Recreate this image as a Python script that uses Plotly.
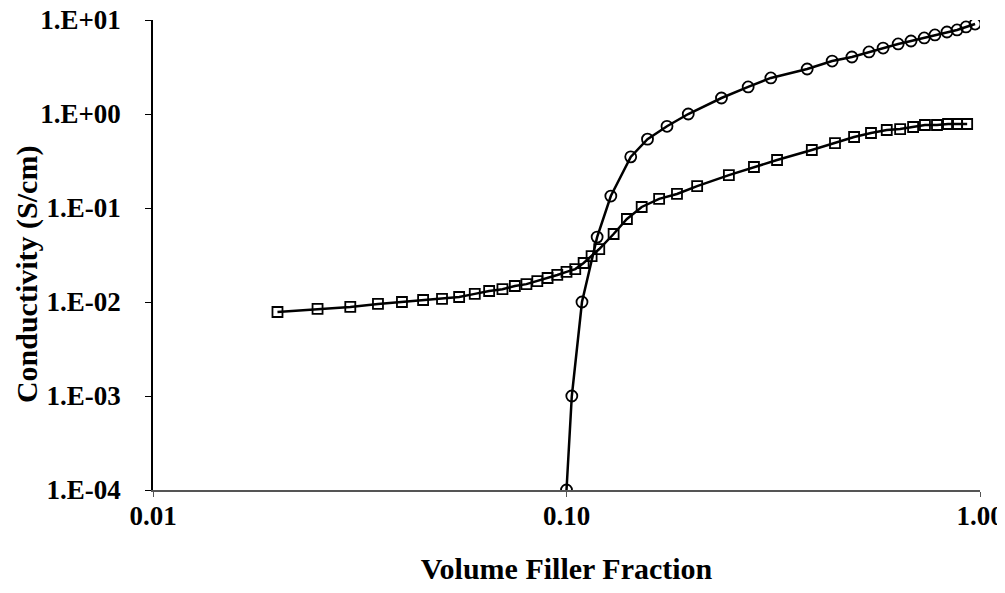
import plotly.graph_objects as go

# Series 1: circles (percolating filler)
circle_x = [0.100, 0.103, 0.109, 0.1186, 0.128, 0.143, 0.157, 0.175, 0.197,
            0.237, 0.275, 0.312, 0.382, 0.439, 0.490, 0.539, 0.583, 0.634,
            0.681, 0.733, 0.778, 0.832, 0.880, 0.925, 0.973]
circle_y = [1.0e-4, 1.0e-3, 1.0e-2, 0.049, 0.134, 0.35, 0.54, 0.74, 1.0,
            1.48, 1.94, 2.42, 3.01, 3.66, 4.04, 4.57, 5.03, 5.56,
            5.98, 6.44, 6.93, 7.45, 7.84, 8.43, 9.06]

# Series 2: squares
square_x = [0.020, 0.025, 0.030, 0.035, 0.040, 0.045, 0.050, 0.055, 0.060,
            0.065, 0.070, 0.075, 0.080, 0.085, 0.090, 0.095, 0.100, 0.105,
            0.110, 0.115, 0.120, 0.130, 0.140, 0.152, 0.1675, 0.185, 0.207,
            0.247, 0.284, 0.323, 0.392, 0.446, 0.496, 0.545, 0.595, 0.641,
            0.689, 0.736, 0.787, 0.837, 0.880, 0.931]
square_y = [0.00783, 0.00843, 0.00886, 0.00953, 0.0100, 0.0105, 0.0108, 0.0113,
            0.0122, 0.0131, 0.0137, 0.0148, 0.0155, 0.0167, 0.0180, 0.0194,
            0.0209, 0.0224, 0.0260, 0.0308, 0.0366, 0.0529, 0.0764, 0.1025,
            0.125, 0.141, 0.171, 0.224, 0.273, 0.324, 0.414, 0.491, 0.569,
            0.628, 0.676, 0.692, 0.727, 0.764, 0.764, 0.783, 0.783, 0.783]

x_tickvals = [0.01, 0.1, 1.0]
x_ticktext = ["0.01", "0.10", "1.00"]
y_tickvals = [1e1, 1e0, 1e-1, 1e-2, 1e-3, 1e-4]
y_ticktext = ["1.E+01", "1.E+00", "1.E-01", "1.E-02", "1.E-03", "1.E-04"]
x_title = "Volume Filler Fraction"
y_title = "Conductivity (S/cm)"

font_family = "Liberation Serif"

fig = go.Figure()
fig.add_trace(go.Scatter(
    x=square_x, y=square_y, mode="lines+markers",
    line=dict(color="black", width=2.5),
    marker=dict(symbol="square-open", size=10, color="black", line=dict(width=1.8)),
    showlegend=False))
fig.add_trace(go.Scatter(
    x=circle_x, y=circle_y, mode="lines+markers",
    line=dict(color="black", width=2.5),
    marker=dict(symbol="circle-open", size=11, color="black", line=dict(width=1.8)),
    showlegend=False))

# The page body has an 8px default margin, so the figure is sized/offset to fit
# the 1005x593 window without scrollbars.
fig.update_layout(
    width=997, height=577,
    margin=dict(l=145, r=25, t=12, b=95),
    paper_bgcolor="white", plot_bgcolor="white",
    font=dict(family=font_family, color="black"),
    xaxis=dict(
        type="log", range=[-2, 0], automargin=False,
        tickvals=x_tickvals, ticktext=["<b>%s</b>" % t for t in x_ticktext],
        tickfont=dict(family=font_family, size=27, color="black"),
        ticklabeloverflow="allow",
        showgrid=False, zeroline=False,
        showline=True, linecolor="#555555", linewidth=1.5,
        ticks="outside", ticklen=5, tickcolor="#555555",
        ticklabelstandoff=-4,
        title=dict(text="<b>%s</b>" % x_title,
                   font=dict(family=font_family, size=30, color="black"),
                   standoff=35),
    ),
    yaxis=dict(
        type="log", range=[-4, 1], automargin=False,
        tickvals=y_tickvals, ticktext=["<b>%s</b>" % t for t in y_ticktext],
        tickfont=dict(family=font_family, size=27, color="black"),
        ticklabeloverflow="allow",
        showgrid=False, zeroline=False,
        showline=True, linecolor="black", linewidth=1.5,
        ticks="outside", ticklen=6, tickcolor="black",
        ticklabelstandoff=19,
    ),
    annotations=[dict(
        text="<b>%s</b>" % y_title, textangle=-90,
        xref="paper", yref="paper", x=-0.152, y=0.46,
        xanchor="center", yanchor="middle", showarrow=False,
        font=dict(family=font_family, size=30, color="black"),
    )],
)

fig.write_html("out.html")
